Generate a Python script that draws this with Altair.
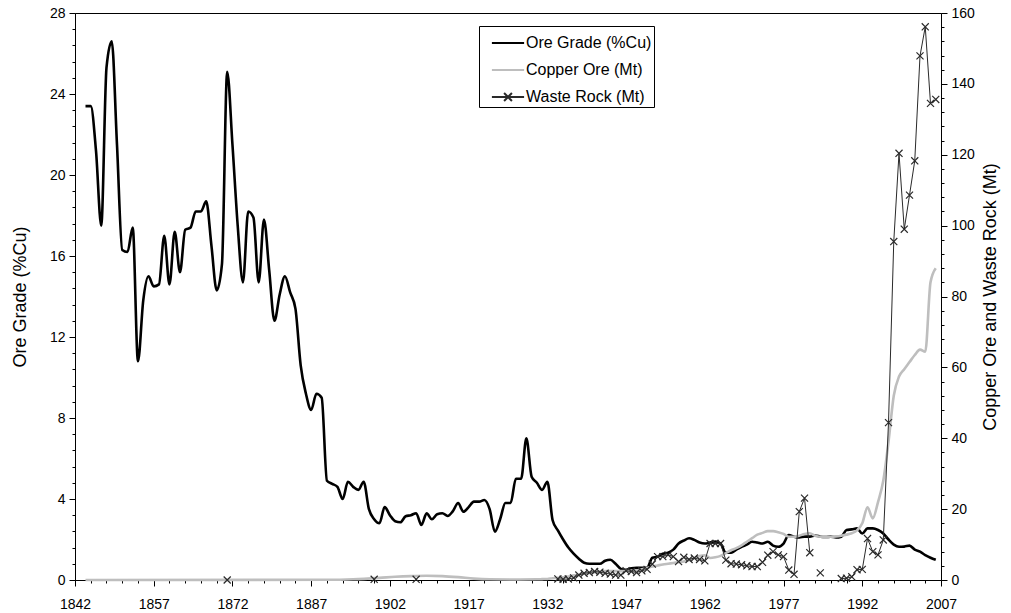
import altair as alt
import pandas as pd

# ---------------- data ----------------
ore_years = list(range(1844, 2007))
ore_grade = [
    23.4, 23.4, 21.2, 17.5, 25.3, 26.6,                               # 1844-1849
    21.5, 16.3, 16.2, 17.4, 10.8, 13.8, 15.0, 14.5, 14.6, 17.0,       # 1850-1859
    14.6, 17.2, 15.2, 17.3, 17.4, 18.2, 18.2, 18.7, 16.5, 14.3,       # 1860-1869
    15.6, 25.1, 21.5, 17.5, 14.7, 18.2, 17.9, 14.7, 17.8, 15.3,       # 1870-1879
    12.8, 14.1, 15.0, 14.2, 13.4, 10.6, 9.2, 8.4, 9.2, 9.0,           # 1880-1889
    4.9, 4.75, 4.6, 4.0, 4.85, 4.6, 4.45, 4.85, 3.5, 3.0,             # 1890-1899
    2.8, 3.6, 3.2, 2.9, 2.85, 3.15, 3.2, 3.3, 2.72, 3.29,             # 1900-1909
    3.0, 3.25, 3.3, 3.16, 3.4, 3.8, 3.37, 3.6, 3.87, 3.87,            # 1910-1919
    3.95, 3.5, 2.39, 3.0, 3.8, 3.8, 5.0, 5.0, 7.0, 5.1,               # 1920-1929
    4.8, 4.45, 4.85, 2.95, 2.45, 2.0, 1.6, 1.3, 1.05, 0.85,           # 1930-1939
    0.8, 0.8, 0.8, 0.95, 1.0, 0.8, 0.55, 0.5, 0.58, 0.6,              # 1940-1949
    0.6, 0.6, 1.1, 1.15, 1.3, 1.35, 1.5, 1.8, 1.95, 2.06,             # 1950-1959
    1.98, 1.85, 1.8, 1.85, 1.9, 1.8, 1.35, 1.35, 1.5, 1.64,           # 1960-1969
    1.75, 1.89, 1.85, 1.8, 1.89, 1.7, 1.64, 1.8, 2.22, 2.14,          # 1970-1979
    2.1, 2.14, 2.14, 2.2, 2.14, 2.12, 2.14, 2.1, 2.14, 2.47,          # 1980-1989
    2.5, 2.55, 2.3, 2.55, 2.55, 2.47, 2.3, 2.0, 1.75, 1.64,           # 1990-1999
    1.65, 1.7, 1.5, 1.4, 1.23, 1.1, 1.0,                              # 2000-2006
]

copper_years = [1844, 1890, 1895, 1900, 1903, 1906, 1909, 1912, 1915, 1918, 1921, 1925, 1930,
                1931, 1932, 1933, 1934, 1935, 1936, 1937, 1938, 1939,
                1940, 1941, 1942, 1943, 1944, 1945, 1946, 1947, 1948, 1949,
                1950, 1951, 1952, 1953, 1954, 1955, 1956, 1957, 1958, 1959,
                1960, 1961, 1962, 1963, 1964, 1965, 1966, 1967, 1968, 1969,
                1970, 1971, 1972, 1973, 1974, 1975, 1976, 1977, 1978, 1979,
                1980, 1981, 1982, 1983, 1984, 1985, 1986, 1987, 1988, 1989,
                1990, 1991, 1992, 1993, 1994, 1995, 1996, 1997, 1998, 1999,
                2000, 2001, 2002, 2003, 2004, 2005, 2006]
copper_ore = [0.0, 0.05, 0.2, 0.6, 0.9, 1.1, 1.2, 1.1, 0.8, 0.4, 0.2, 0.15, 0.2,
              0.25, 0.3, 0.5, 0.6, 0.8, 1.0, 1.3, 1.5, 1.8,
              2.0, 2.2, 2.4, 2.5, 2.5, 2.5, 2.5, 2.6, 2.6, 2.7,
              3.0, 3.4, 3.8, 4.1, 4.4, 4.6, 4.8, 5.0, 5.2, 5.6,
              6.2, 6.8, 7.0, 6.2, 6.4, 6.8, 7.6, 8.4, 9.0, 9.8,
              10.8, 11.8, 12.8, 13.3, 13.8, 13.8, 13.5, 13.0, 12.2, 12.2,
              12.5, 13.0, 13.2, 12.5, 12.2, 12.2, 12.2, 12.3, 12.5, 12.8,
              13.2, 14.0, 16.0, 20.5, 17.4, 22.0, 28.0, 39.0, 52.0, 57.4,
              59.5, 61.5, 63.5, 65.0, 64.4, 84.0, 88.0]

waste_years = [1871, 1899, 1907,
               1934, 1935, 1936, 1937, 1938, 1939,
               1940, 1941, 1942, 1943, 1944, 1945, 1946, 1947, 1948, 1949,
               1950, 1951, 1952, 1953, 1954, 1955, 1956, 1957, 1958, 1959,
               1960, 1961, 1962, 1963, 1964, 1965, 1966, 1967, 1968, 1969,
               1970, 1971, 1972, 1973, 1974, 1975, 1976, 1977, 1978, 1979,
               1980, 1981, 1982,
               1984,
               1988, 1989, 1990, 1991, 1992, 1993, 1994, 1995, 1996, 1997,
               1998, 1999, 2000, 2001, 2002, 2003, 2004, 2005, 2006]
waste_rock = [0.0, 0.2, 0.2,
              0.3, 0.2, 0.3, 0.6, 1.4, 1.9,
              2.1, 2.4, 2.2, 1.9, 1.7, 1.4, 1.4, 2.6, 2.4, 2.1,
              2.6, 3.0, 4.5, 6.6, 6.6, 7.1, 6.6, 5.2, 6.4, 5.8,
              6.2, 5.8, 5.4, 10.3, 10.3, 10.3, 5.6, 4.6, 4.5, 4.3,
              4.0, 3.8, 3.8, 5.0, 7.0, 8.0, 7.1, 6.6, 2.8, 1.6,
              19.3, 23.1, 7.7,
              2.0,
              0.4, 0.5, 0.9, 2.9, 3.0, 11.7, 8.0, 7.1, 11.3, 44.4,
              95.5, 120.4, 99.0, 108.6, 118.3, 147.9, 156.1, 134.5, 135.6]

SERIES = ["Ore Grade (%Cu)", "Copper Ore (Mt)", "Waste Rock (Mt)"]
COLORS = ["#000000", "#BEBEBE", "#2A2A2A"]

# ---------------- tables ----------------
df_ore = pd.DataFrame({"year": ore_years, "value": ore_grade, "series": SERIES[0]})
df_cu = pd.DataFrame({"year": copper_years, "value": copper_ore, "series": SERIES[1]})
seg, s = [], 0
for i, yr in enumerate(waste_years):
    if i > 0 and yr - waste_years[i - 1] > 1:
        s += 1
    seg.append(s)
df_w = pd.DataFrame({"year": waste_years, "value": waste_rock, "series": SERIES[2], "seg": seg})

# ---------------- axes ----------------
x_ticks = list(range(1842, 2008, 3))          # minor every 3 years, labels every 15
left_ticks_tenths = list(range(0, 281, 8))    # ore grade in tenths of % : minor every 0.8 %
right_ticks = list(range(0, 161, 4))          # minor every 4 Mt, labels every 20

FONT = "Liberation Sans"

x_enc = alt.X(
    "year:Q",
    scale=alt.Scale(domain=[1842, 2007], nice=False, zero=False),
    axis=alt.Axis(
        values=x_ticks, format="d", title=None, grid=False, tickCount=200,
        labelExpr="(datum.value - 1842) % 15 === 0 ? datum.label : ''",
        tickSize={"condition": {"test": "(datum.value - 1842) % 15 === 0", "value": 6}, "value": 3},
        labelFlush=False, labelOverlap=False, labelPadding=11, labelFontSize=14,
    ),
)

y_left = alt.Y(
    "v10:Q",
    scale=alt.Scale(domain=[0, 280], nice=False, zero=True),
    axis=alt.Axis(
        orient="left", values=left_ticks_tenths, grid=False, tickCount=200,
        labelExpr="datum.value % 40 === 0 ? format(datum.value / 10, 'd') : ''",
        tickSize={"condition": {"test": "datum.value % 40 === 0", "value": 6}, "value": 3},
        labelFlush=False, labelOverlap=False, labelPadding=4, labelFontSize=14,
        title="Ore Grade (%Cu)", titlePadding=20, titleFontSize=18,
    ),
)

y_right = alt.Y(
    "value:Q",
    scale=alt.Scale(domain=[0, 160], nice=False, zero=True),
    axis=alt.Axis(
        orient="right", values=right_ticks, format="d", grid=False, tickCount=200,
        labelExpr="datum.value % 20 === 0 ? datum.label : ''",
        tickSize={"condition": {"test": "datum.value % 20 === 0", "value": 6}, "value": 3},
        labelFlush=False, labelOverlap=False, labelPadding=4, labelFontSize=14,
        title="Copper Ore and Waste Rock (Mt)", titlePadding=25, titleAngle=270, titleFontSize=18,
    ),
)

LINE_PATH = "M-1.15,0L1.15,0"
LINE_X_PATH = "M-1.15,0L1.15,0M-0.28,-0.28L0.28,0.28M-0.28,0.28L0.28,-0.28"
X_PATH = "M-1,-1L1,1M-1,1L1,-1"

legend = alt.Legend(
    title=None, orient="none", legendX=404, legendY=13,
    fillColor="white", strokeColor="black", padding=2,
    symbolSize=784, symbolStrokeWidth=2, rowPadding=4,
    symbolOffset=12, labelOffset=3,
    labelFontSize=16, labelFont=FONT, labelColor="#000",
    labelExpr="datum.label + '\u00a0\u00a0'",
    cornerRadius=0, symbolOpacity=1,
)

color_enc = alt.Color("series:N", scale=alt.Scale(domain=SERIES, range=COLORS), legend=legend)
shape_enc = alt.Shape("series:N", scale=alt.Scale(domain=SERIES, range=[LINE_PATH, LINE_PATH, LINE_X_PATH]),
                      legend=legend)

ore_line = alt.Chart(df_ore).transform_calculate(v10="datum.value * 10").mark_line(
    strokeWidth=2.6, interpolate="monotone").encode(x=x_enc, y=y_left, color=color_enc)

cu_line = alt.Chart(df_cu).mark_line(strokeWidth=2.6, interpolate="monotone").encode(
    x=x_enc, y=y_right, color=color_enc)

waste_line = alt.Chart(df_w).mark_line(strokeWidth=1).encode(
    x=x_enc, y=y_right, color=color_enc, detail="seg:N")

waste_pts = alt.Chart(df_w).mark_point(shape=X_PATH, size=50, filled=False, strokeWidth=1.2,
                                        color="#2A2A2A", opacity=1).encode(x=x_enc, y=y_right)

legend_shape = alt.Chart(df_w).mark_point(opacity=0, filled=False).encode(
    x=x_enc, y=y_right, shape=shape_enc, color=color_enc)

right = alt.layer(cu_line, waste_line, waste_pts, legend_shape)

chart = alt.layer(ore_line, right).resolve_scale(y="independent").properties(
    width=866, height=567,
    padding={"left": 75, "top": 13, "right": 70, "bottom": 33},
    autosize=alt.AutoSizeParams(type="none"),
).configure(font=FONT).configure_view(
    stroke="#000", strokeWidth=1,
).configure_axis(
    domainColor="#000", tickColor="#000", labelColor="#000", titleColor="#000",
    titleFontWeight="normal", domainWidth=1, tickWidth=1, labelFont=FONT, titleFont=FONT,
)

chart.save("out.html", embed_options={"renderer": "svg", "actions": False})
